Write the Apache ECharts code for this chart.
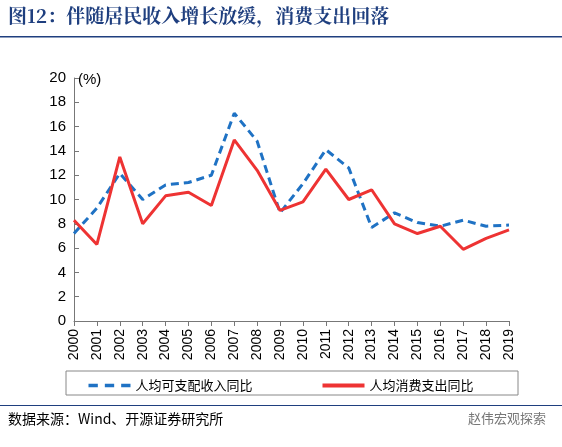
<!DOCTYPE html><html><head><meta charset="utf-8"><script src="https://cdn.jsdelivr.net/npm/echarts@6/dist/echarts.min.js"></script>
<style>body{margin:0}#c{width:562px;height:447px}</style></head><body><div id="c"></div><script>
const years=['2000','2001','2002','2003','2004','2005','2006','2007','2008','2009','2010','2011','2012','2013','2014','2015','2016','2017','2018','2019'];
const income=[7.2,9.3,12.15,10.0,11.2,11.4,12.0,17.1,14.8,8.9,11.3,14.1,12.6,7.7,8.9,8.1,7.8,8.3,7.8,7.9];
const consume=[8.3,6.3,13.5,8.0,10.3,10.6,9.5,14.9,12.4,9.1,9.8,12.5,10.0,10.8,8.0,7.2,7.8,5.9,6.8,7.5];
const c=echarts.init(document.getElementById('c'));
const F='"Noto Sans CJK SC",sans-serif';
c.setOption({
animation:false,
graphic:[
{type:'text',left:8,top:6,style:{text:'图12：伴随居民收入增长放缓，消费支出回落',font:'bold 19px "Noto Serif CJK SC","Noto Sans CJK SC",serif',fill:'#1f3f7f'}},
{type:'rect',shape:{x:0,y:36,width:562,height:1.5},style:{fill:'#1f3f7f'}},
{type:'rect',shape:{x:66,y:371,width:452,height:24},style:{fill:'none',stroke:'#888',lineWidth:1}},
{type:'rect',shape:{x:0,y:405,width:562,height:1},style:{fill:'#1f3f7f'}},
{type:'text',left:8,top:412,style:{text:'数据来源：Wind、开源证券研究所',font:'14px '+F,fill:'#000'}},
{type:'text',left:468,top:412,style:{text:'赵伟宏观探索',font:'13px '+F,fill:'#777'}},
{type:'text',left:78,top:72,style:{text:'(%)',font:'15px Arial,sans-serif',fill:'#000'}}
],
legend:{top:374,left:'center',itemGap:70,itemWidth:42,itemHeight:4,textStyle:{fontFamily:F,fontSize:13,color:'#000'},data:[{name:'人均可支配收入同比',icon:'path://M0,0h8v3h-8zM14,0h8v3h-8zM28,0h8v3h-8z',itemStyle:{color:'#1f72c4',borderWidth:0}},{name:'人均消费支出同比',icon:'rect',itemStyle:{color:'#ee3333',borderWidth:0}}]},
grid:{left:74,right:53,top:78,bottom:126},
xAxis:{type:'category',data:years,boundaryGap:false,axisLine:{lineStyle:{color:'#777'}},axisTick:{show:true,alignWithLabel:true,lineStyle:{color:'#777'}},axisLabel:{rotate:90,color:'#000',fontSize:14,fontFamily:'Arial,sans-serif',interval:0}},
yAxis:{type:'value',min:0,max:20,interval:2,splitLine:{show:false},axisLine:{show:true,lineStyle:{color:'#777'}},axisTick:{show:true,inside:true,lineStyle:{color:'#777'}},axisLabel:{color:'#000',fontSize:15,fontFamily:'Arial,sans-serif'}},
series:[
{name:'人均可支配收入同比',type:'line',data:income,symbol:'none',lineStyle:{color:'#1f72c4',width:3,type:[8,5]},itemStyle:{color:'#1f72c4'}},
{name:'人均消费支出同比',type:'line',data:consume,symbol:'none',lineStyle:{color:'#ee3333',width:3},itemStyle:{color:'#ee3333'}}
]});
</script></body></html>
